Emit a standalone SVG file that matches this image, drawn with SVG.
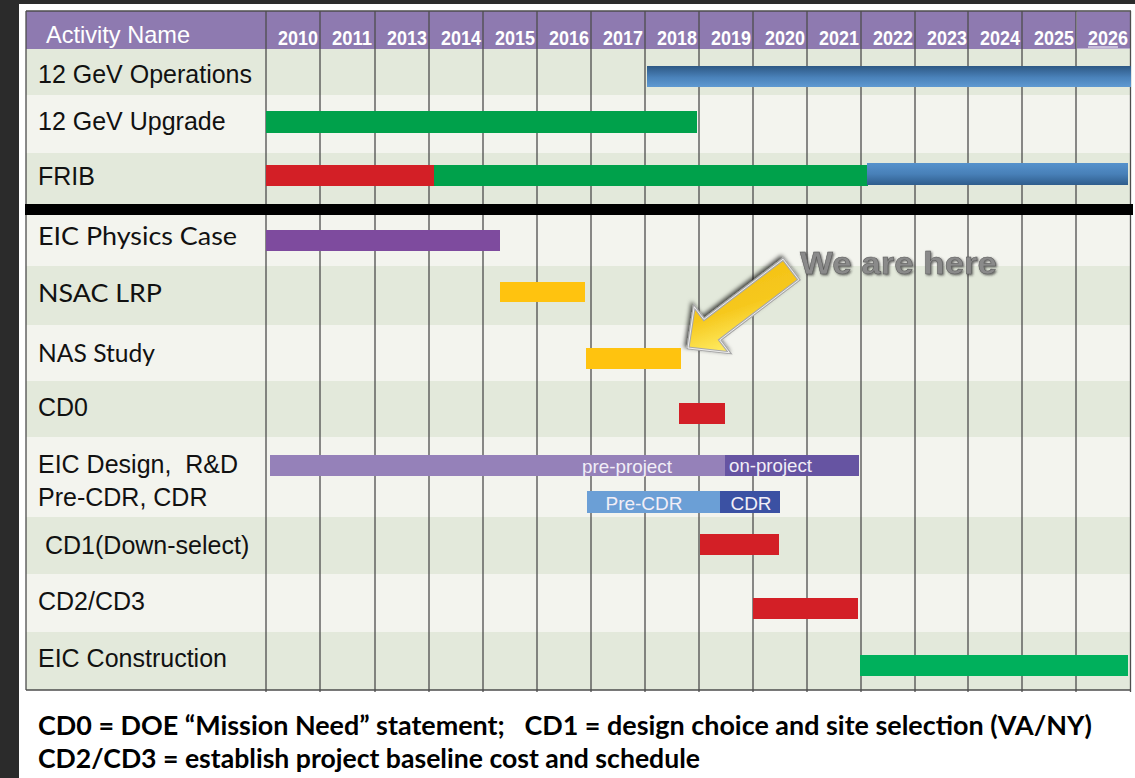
<svg xmlns="http://www.w3.org/2000/svg" width="1135" height="778" viewBox="0 0 1135 778">
  <style>
    .lbl { font-family: "Liberation Sans", Arial, sans-serif; font-size: 25px; fill: #111; }
    .lblc { font-family: Lato, "Liberation Sans", sans-serif; font-size: 25px; fill: #111; }
    .yr { font-family: "Liberation Sans", Arial, sans-serif; font-size: 20px; font-weight: bold; fill: #fff; }
    .hdr { font-family: "Liberation Sans", Arial, sans-serif; font-size: 24px; fill: #fff; }
    .bartxt { font-family: "Liberation Sans", Arial, sans-serif; font-size: 19px; fill: #f1eef7; }
    .foot { font-family: "Liberation Sans Narrow", Lato, "Liberation Sans", sans-serif; font-size: 26px; font-weight: bold; fill: #000; white-space: pre; }
    .rowA { fill: #e3e9db; }
    .rowB { fill: #f3f4ee; }
    .grid { stroke: #4d4d4d; stroke-width: 1.3; }
    .red { fill: #d31f26; }
    .green { fill: #00a14b; }
    .yellow { fill: #ffc30f; }
  </style>
  <defs>
    <linearGradient id="blueTop" x1="0" y1="0" x2="0" y2="1">
      <stop offset="0" stop-color="#2d5884"/>
      <stop offset="0.55" stop-color="#4a82ba"/>
      <stop offset="1" stop-color="#5f9ad2"/>
    </linearGradient>
    <linearGradient id="blueBot" x1="0" y1="0" x2="0" y2="1">
      <stop offset="0" stop-color="#5592cc"/>
      <stop offset="0.5" stop-color="#4880b8"/>
      <stop offset="1" stop-color="#2f5d8c"/>
    </linearGradient>
    <linearGradient id="arrowFill" x1="0" y1="0" x2="0.4" y2="1">
      <stop offset="0" stop-color="#f2bd10"/>
      <stop offset="0.6" stop-color="#f6c81d"/>
      <stop offset="1" stop-color="#fff06a"/>
    </linearGradient>
    <filter id="shade" x="-20%" y="-20%" width="140%" height="140%">
      <feDropShadow dx="-2" dy="-2" stdDeviation="2.2" flood-color="#000" flood-opacity="0.7"/>
    </filter>
    <filter id="emboss" x="-5%" y="-20%" width="110%" height="150%">
      <feDropShadow dx="1.2" dy="1.2" stdDeviation="0.8" flood-color="#2a2a2a" flood-opacity="0.7"/>
    </filter>
  </defs>

  <!-- page -->
  <rect x="0" y="0" width="1135" height="778" fill="#2b2b2b"/>
  <rect x="19" y="4" width="1116" height="774" fill="#ffffff"/>

  <!-- header band -->
  <g id="header">
    <rect x="26" y="11" width="1105" height="38" fill="#8e7ab0"/>
    <rect x="1076.5" y="11" width="54" height="38" fill="none" stroke="#e8e4f0" stroke-width="1"/>
    <text class="hdr" x="46" y="43" textLength="144" lengthAdjust="spacingAndGlyphs">Activity Name</text>
    <text class="yr" x="278" y="45" textLength="40" lengthAdjust="spacingAndGlyphs">2010</text>
    <text class="yr" x="332" y="45" textLength="40" lengthAdjust="spacingAndGlyphs">2011</text>
    <text class="yr" x="387" y="45" textLength="40" lengthAdjust="spacingAndGlyphs">2013</text>
    <text class="yr" x="441" y="45" textLength="40" lengthAdjust="spacingAndGlyphs">2014</text>
    <text class="yr" x="495" y="45" textLength="40" lengthAdjust="spacingAndGlyphs">2015</text>
    <text class="yr" x="549" y="45" textLength="40" lengthAdjust="spacingAndGlyphs">2016</text>
    <text class="yr" x="603" y="45" textLength="40" lengthAdjust="spacingAndGlyphs">2017</text>
    <text class="yr" x="657" y="45" textLength="40" lengthAdjust="spacingAndGlyphs">2018</text>
    <text class="yr" x="711" y="45" textLength="40" lengthAdjust="spacingAndGlyphs">2019</text>
    <text class="yr" x="765" y="45" textLength="40" lengthAdjust="spacingAndGlyphs">2020</text>
    <text class="yr" x="819" y="45" textLength="40" lengthAdjust="spacingAndGlyphs">2021</text>
    <text class="yr" x="873" y="45" textLength="40" lengthAdjust="spacingAndGlyphs">2022</text>
    <text class="yr" x="927" y="45" textLength="40" lengthAdjust="spacingAndGlyphs">2023</text>
    <text class="yr" x="980" y="45" textLength="40" lengthAdjust="spacingAndGlyphs">2024</text>
    <text class="yr" x="1034" y="45" textLength="40" lengthAdjust="spacingAndGlyphs">2025</text>
    <text class="yr" x="1088" y="45" textLength="40" lengthAdjust="spacingAndGlyphs">2026</text>
    <line x1="1088" y1="47" x2="1118" y2="47" stroke="#fff" stroke-width="1"/>
  </g>

  <!-- row bands -->
  <g id="rows">
    <rect class="rowA" x="26" y="49" width="1105" height="46"/>
    <rect class="rowB" x="26" y="95" width="1105" height="58"/>
    <rect class="rowA" x="26" y="153" width="1105" height="51"/>
    <rect class="rowB" x="26" y="215" width="1105" height="51"/>
    <rect class="rowA" x="26" y="266" width="1105" height="59"/>
    <rect class="rowB" x="26" y="325" width="1105" height="56"/>
    <rect class="rowA" x="26" y="381" width="1105" height="56"/>
    <rect class="rowB" x="26" y="437" width="1105" height="80"/>
    <rect class="rowA" x="26" y="517" width="1105" height="57"/>
    <rect class="rowB" x="26" y="574" width="1105" height="58"/>
    <rect class="rowA" x="26" y="632" width="1105" height="58"/>
  </g>

  <!-- grid -->
  <g id="grid" class="grid">
    <line x1="26" y1="11" x2="26" y2="690"/>
    <line x1="26" y1="11" x2="1131" y2="11"/>
    <line x1="26" y1="690" x2="1131" y2="690"/>
    <line x1="266" y1="11" x2="266" y2="692"/>
    <line x1="320" y1="11" x2="320" y2="692"/>
    <line x1="375" y1="11" x2="375" y2="692"/>
    <line x1="429" y1="11" x2="429" y2="692"/>
    <line x1="483" y1="11" x2="483" y2="692"/>
    <line x1="537" y1="11" x2="537" y2="692"/>
    <line x1="591" y1="11" x2="591" y2="692"/>
    <line x1="645" y1="11" x2="645" y2="692"/>
    <line x1="699" y1="11" x2="699" y2="692"/>
    <line x1="753" y1="11" x2="753" y2="692"/>
    <line x1="807" y1="11" x2="807" y2="692"/>
    <line x1="861" y1="11" x2="861" y2="692"/>
    <line x1="915" y1="11" x2="915" y2="692"/>
    <line x1="968" y1="11" x2="968" y2="692"/>
    <line x1="1022" y1="11" x2="1022" y2="692"/>
    <line x1="1076" y1="11" x2="1076" y2="692"/>
    <line x1="1130.5" y1="11" x2="1130.5" y2="692"/>
  </g>

  <!-- separator between facility projects and EIC activities -->
  <rect x="25" y="204" width="1108" height="11" fill="#000"/>

  <!-- activities -->
  <g id="ops12">
    <text class="lbl" x="38" y="83">12 GeV Operations</text>
    <rect x="647" y="66" width="484" height="21" fill="url(#blueTop)"/>
  </g>
  <g id="upgrade12">
    <text class="lbl" x="38" y="130">12 GeV Upgrade</text>
    <rect class="green" x="266" y="111" width="431" height="22"/>
  </g>
  <g id="frib">
    <text class="lbl" x="38" y="185">FRIB</text>
    <rect class="red" x="266" y="165" width="169" height="21"/>
    <rect class="green" x="434" y="165" width="434" height="21"/>
    <rect x="867" y="163" width="261" height="22" fill="url(#blueBot)"/>
  </g>
  <g id="physics-case">
    <text class="lblc" x="38" y="245" textLength="199" lengthAdjust="spacingAndGlyphs">EIC Physics Case</text>
    <rect x="266" y="230" width="234" height="21" fill="#7e4b9e"/>
  </g>
  <g id="nsac-lrp">
    <text class="lblc" x="38" y="302" textLength="124" lengthAdjust="spacingAndGlyphs">NSAC LRP</text>
    <rect class="yellow" x="500" y="282" width="85" height="20"/>
  </g>
  <g id="nas-study">
    <text class="lblc" x="38" y="362" textLength="117" lengthAdjust="spacingAndGlyphs">NAS Study</text>
    <rect class="yellow" x="586" y="348" width="95" height="21"/>
  </g>
  <g id="cd0">
    <text class="lbl" x="38" y="416">CD0</text>
    <rect class="red" x="679" y="403" width="46" height="21"/>
  </g>
  <g id="eic-design">
    <text class="lbl" x="38" y="473" style="white-space:pre">EIC Design,  R&amp;D</text>
    <text class="lbl" x="38" y="506">Pre-CDR, CDR</text>
    <rect x="270" y="455" width="456" height="21" fill="#9581b9"/>
    <rect x="725" y="455" width="134" height="21" fill="#6654a2"/>
    <text class="bartxt" x="582" y="473" textLength="90" lengthAdjust="spacingAndGlyphs">pre-project</text>
    <text class="bartxt" x="729" y="472" textLength="83" lengthAdjust="spacingAndGlyphs">on-project</text>
    <rect x="587" y="491" width="134" height="22" fill="#6b9fd6"/>
    <rect x="720" y="491" width="60" height="22" fill="#3b51a3"/>
    <text class="bartxt" x="644" y="510" text-anchor="middle">Pre-CDR</text>
    <text class="bartxt" x="751" y="510" text-anchor="middle">CDR</text>
  </g>
  <g id="cd1">
    <text class="lbl" x="45" y="554">CD1(Down-select)</text>
    <rect class="red" x="700" y="534" width="79" height="21"/>
  </g>
  <g id="cd2-cd3">
    <text class="lbl" x="38" y="610">CD2/CD3</text>
    <rect class="red" x="753" y="598" width="105" height="21"/>
  </g>
  <g id="eic-construction">
    <text class="lbl" x="38" y="667">EIC Construction</text>
    <rect x="860" y="655" width="268" height="21" fill="#00b05c"/>
  </g>

  <!-- "we are here" pointer -->
  <g id="connectors">
    <g id="pointer">
      <polygon points="688,348 729.4,352.7 719.7,340 798.9,279.8 783.1,259.2 703.9,319.4 694.2,306.7" fill="url(#arrowFill)" stroke="#a8a8a8" stroke-width="3" stroke-linejoin="miter" filter="url(#shade)"/>
      <polygon points="688,348 729.4,352.7 719.7,340 798.9,279.8 783.1,259.2 703.9,319.4 694.2,306.7" fill="none" stroke="#ffffff" stroke-width="1" opacity="0.8"/>
    </g>
    <text x="800" y="274" textLength="197" lengthAdjust="spacingAndGlyphs" font-family="'Liberation Sans', Arial, sans-serif" font-size="31" font-weight="bold" fill="#8a8a8a" stroke="#5a5a5a" stroke-width="0.5" filter="url(#emboss)">We are here</text>
  </g>

  <!-- legend -->
  <g id="legend">
    <text class="foot" x="38" y="735" textLength="1054" lengthAdjust="spacingAndGlyphs">CD0 = DOE “Mission Need” statement;   CD1 = design choice and site selection (VA/NY)</text>
    <text class="foot" x="38" y="768" textLength="662" lengthAdjust="spacingAndGlyphs">CD2/CD3 = establish project baseline cost and schedule</text>
  </g>
</svg>
